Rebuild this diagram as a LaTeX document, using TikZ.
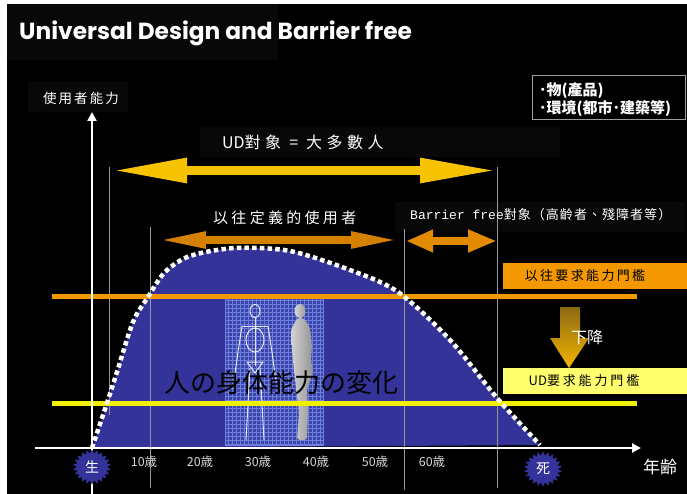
\documentclass[tikz,border=0pt]{standalone}
\usepackage{fontspec}
\usetikzlibrary{arrows.meta,shapes.symbols}
\newfontfamily\cjk{Noto Sans CJK TC}
\newfontfamily\jp{Noto Sans CJK JP}
\newfontfamily\headfont{Poppins}
\newfontfamily\monofont{Liberation Mono}
\newcommand\fsz[1]{\fontsize{#1}{#1}\selectfont}
\newcommand\wide[1]{{\addfontfeatures{LetterSpace=#1}}}

\definecolor{udgold}{RGB}{247,194,0}
\definecolor{pastorange}{RGB}{214,128,0}
\definecolor{bforange}{RGB}{226,138,0}
\definecolor{lineorange}{RGB}{243,152,0}
\definecolor{lineyellow}{RGB}{240,240,0}
\definecolor{boxyellow}{RGB}{255,255,110}
\definecolor{bodyblue}{RGB}{51,51,153}
\definecolor{gridblue}{RGB}{58,68,170}
\definecolor{gridline}{RGB}{110,128,220}
\definecolor{guidegrey}{RGB}{150,150,150}
\definecolor{shadowbox}{gray}{0.03}
\definecolor{dropTop}{RGB}{140,105,20}
\definecolor{dropBottom}{RGB}{245,182,0}
\definecolor{agegrey}{RGB}{215,215,215}

\begin{document}
\begin{tikzpicture}[x=1pt,y=-1pt,
  every node/.style={inner sep=0pt},
  guide/.style={draw=guidegrey, line width=1},
  axisline/.style={draw=white, line width=2.5, -{Triangle[length=9pt,width=9pt]}},
  level/.style={line width=5},
  agelabel/.style={text=agegrey, font=\jp\fsz{12.5}},
  burst/.style={starburst, starburst points=22, starburst point height=4pt,
    random starburst=0, fill=bodyblue, minimum width=38pt, minimum height=35pt,
    text=white, font=\jp\fsz{14}},
  curvedots/.style={draw=white, line width=4.5, dash pattern=on 4.5pt off 3.2pt},
  wire/.style={draw=white, line width=1, opacity=0.85},
]
\useasboundingbox (0,0) rectangle (687,494);
\fill[white] (0,0) rectangle (687,494);
\fill[black] (7,4) rectangle (687,494);

% faint panels behind the text blocks
\fill[shadowbox] (7,4) rectangle (278,60);
\fill[shadowbox] (28,82) rectangle (128,112);
\fill[shadowbox] (200,127) rectangle (560,157);
\fill[shadowbox] (395,202) rectangle (685,232);

% title
\node[anchor=west, text=white, font=\headfont\bfseries\fsz{23.3}] (title) at (19,33)
  {Universal Design and Barrier free};

% physical ability over a lifetime
\fill[bodyblue] plot[smooth] coordinates {(92,448) (107,403) (117,372) (133,322)
  (148,297) (165,272) (190,256) (235,248) (290,251) (350,270) (398,292)
  (450,340) (497,398) (540,445)} -- cycle;

% human figure panel
\fill[gridblue] (225,297) rectangle (323,445);
\draw[gridline, line width=0.4, step=4pt] (225,297) grid (323,445);
\draw[gridline, line width=0.6] (225,297) rectangle (323,445);
\begin{scope}[wire]
  \draw (255,311) ellipse (5 and 6.5);
  \draw (255,318) -- (255,366);
  \draw (242,326) -- (268,326);
  \draw (255,340) ellipse (9 and 12);
  \draw (247,362) -- (263,362) -- (255,373) -- cycle;
  \draw (242,326) -- (238,352) -- (234,382);
  \draw (268,326) -- (272,352) -- (276,382);
  \draw (250,368) -- (248,404) -- (246,440);
  \draw (260,368) -- (262,404) -- (264,440);
\end{scope}
\shade[left color=gray!35, right color=gray!85, rounded corners=3]
  (297,318) -- (304,318) -- (310,328) -- (312,345) -- (311,360) -- (313,371)
  -- (310,382) -- (307,388) -- (308,412) -- (307,440) -- (297,440) -- (299,412)
  -- (296,388) -- (294,371) -- (292,350) -- (291,330) -- cycle;
\shade[left color=gray!30, right color=gray!80] (300,311) ellipse (5.5 and 7);

% age guide lines
\coordinate (g1t) at (109,167); \coordinate (g1b) at (109,415);
\coordinate (g2t) at (150,227); \coordinate (g2b) at (150,488);
\coordinate (g3t) at (404,229); \coordinate (g3b) at (404,490);
\coordinate (g4t) at (497,167); \coordinate (g4b) at (497,488);
\draw[guide] (g1t) -- (g1b);
\draw[guide] (g2t) -- (g2b);
\draw[guide] (g3t) -- (g3b);
\draw[guide] (g4t) -- (g4b);

% required ability thresholds
\coordinate (oldL) at (52,296); \coordinate (oldR) at (637,296);
\coordinate (udL) at (52,403); \coordinate (udR) at (637,403);
\draw[level, lineorange] (oldL) -- (oldR);
\draw[level, lineyellow] (udL) -- (udR);

% outline of the ability curve
\draw[curvedots] plot[smooth] coordinates {(92,448) (107,403) (117,372) (133,322)
  (148,297) (165,272) (190,256) (235,248) (290,251) (350,270) (398,292)
  (450,340) (497,398) (540,445)};

\node[font=\jp\fsz{26}, text=black] (change) at (281,383) {人の身体能力の変化};

% axes
\coordinate (yb) at (92,494); \coordinate (yt) at (92,112);
\coordinate (xl) at (35,448); \coordinate (xr) at (641,448);
\draw[axisline] (yb) -- (yt);
\draw[axisline] (xl) -- (xr);

\node[anchor=west, text=white, font=\cjk\fsz{13.5}\addfontfeatures{LetterSpace=15}] (ylab) at (43,98) {使用者能力};
\node[text=white, font=\jp\fsz{17}] (xlab) at (660,467) {年齢};

\node[burst] (birth) at (92,467) {生};
\node[burst] (death) at (543,469) {死};

\node[agelabel] (a10) at (144,462) {10歳};
\node[agelabel] (a20) at (200,462) {20歳};
\node[agelabel] (a30) at (258,462) {30歳};
\node[agelabel] (a40) at (316,462) {40歳};
\node[agelabel] (a50) at (375,462) {50歳};
\node[agelabel] (a60) at (432,462) {60歳};

% target groups
\coordinate (uL) at (112,170.5); \coordinate (uR) at (497,170.5);
\draw[udgold, line width=9, {Triangle[length=75pt,width=23pt]}-{Triangle[length=77pt,width=23pt]}] (uL) -- (uR);
\node[anchor=west, text=white, font=\cjk\fsz{16}] (udtxt) at (222,142)
  {UD{\addfontfeatures{LetterSpace=28}對象 = 大多數人}};

\coordinate (pL) at (156,240); \coordinate (pR) at (401,240);
\draw[pastorange, line width=8, {Triangle[length=50pt,width=15pt]}-{Triangle[length=50pt,width=15pt]}] (pL) -- (pR);
\node[anchor=west, text=white, font=\cjk\fsz{15}\addfontfeatures{LetterSpace=22}] (pasttxt) at (213,218) {以往定義的使用者};

\coordinate (bL) at (406,241); \coordinate (bR) at (497,241);
\draw[bforange, line width=8, {Triangle[length=27pt,width=21pt]}-{Triangle[length=29pt,width=21pt]}] (bL) -- (bR);
\node[anchor=west, text=white] (bftxt) at (410,215)
  {{\monofont\fsz{13}Barrier free}{\cjk\fsz{13}\addfontfeatures{LetterSpace=8}對象（高齡者、殘障者等）}};

% scope of design
\node[draw=gray!75, line width=1, anchor=north west, minimum width=153pt, minimum height=44pt] (scopebox) at (532,75) {};
\node[anchor=west, text=white, font=\cjk\bfseries\fsz{15}] (item1) at (539,91) {･物(產品)};
\node[anchor=west, text=white, font=\cjk\bfseries\fsz{15}] (item2) at (539,109) {･環境(都市･建築等)};

% threshold labels
\node[fill=lineorange, anchor=north west, minimum width=190pt, minimum height=26pt] (oldbox) at (503,263) {};
\node[font=\cjk\fsz{13}\addfontfeatures{LetterSpace=18}, text=black] (oldtxt) at (585,276) {以往要求能力門檻};
\node[fill=boxyellow, anchor=north west, minimum width=190pt, minimum height=26pt] (udbox) at (503,368) {};
\node[font=\cjk\fsz{13}, text=black] (udbtxt) at (584,381) {UD{\addfontfeatures{LetterSpace=22}要求能力門檻}};

% lowering of the threshold
\shade[top color=dropTop, bottom color=dropBottom]
  (560,307) -- (580,307) -- (580,338) -- (589,338) -- (569,368) -- (550,338) -- (560,338) -- cycle;
\node[anchor=west, text=white, font=\cjk\fsz{16}] (drop) at (571,337) {下降};
\end{tikzpicture}
\end{document}
